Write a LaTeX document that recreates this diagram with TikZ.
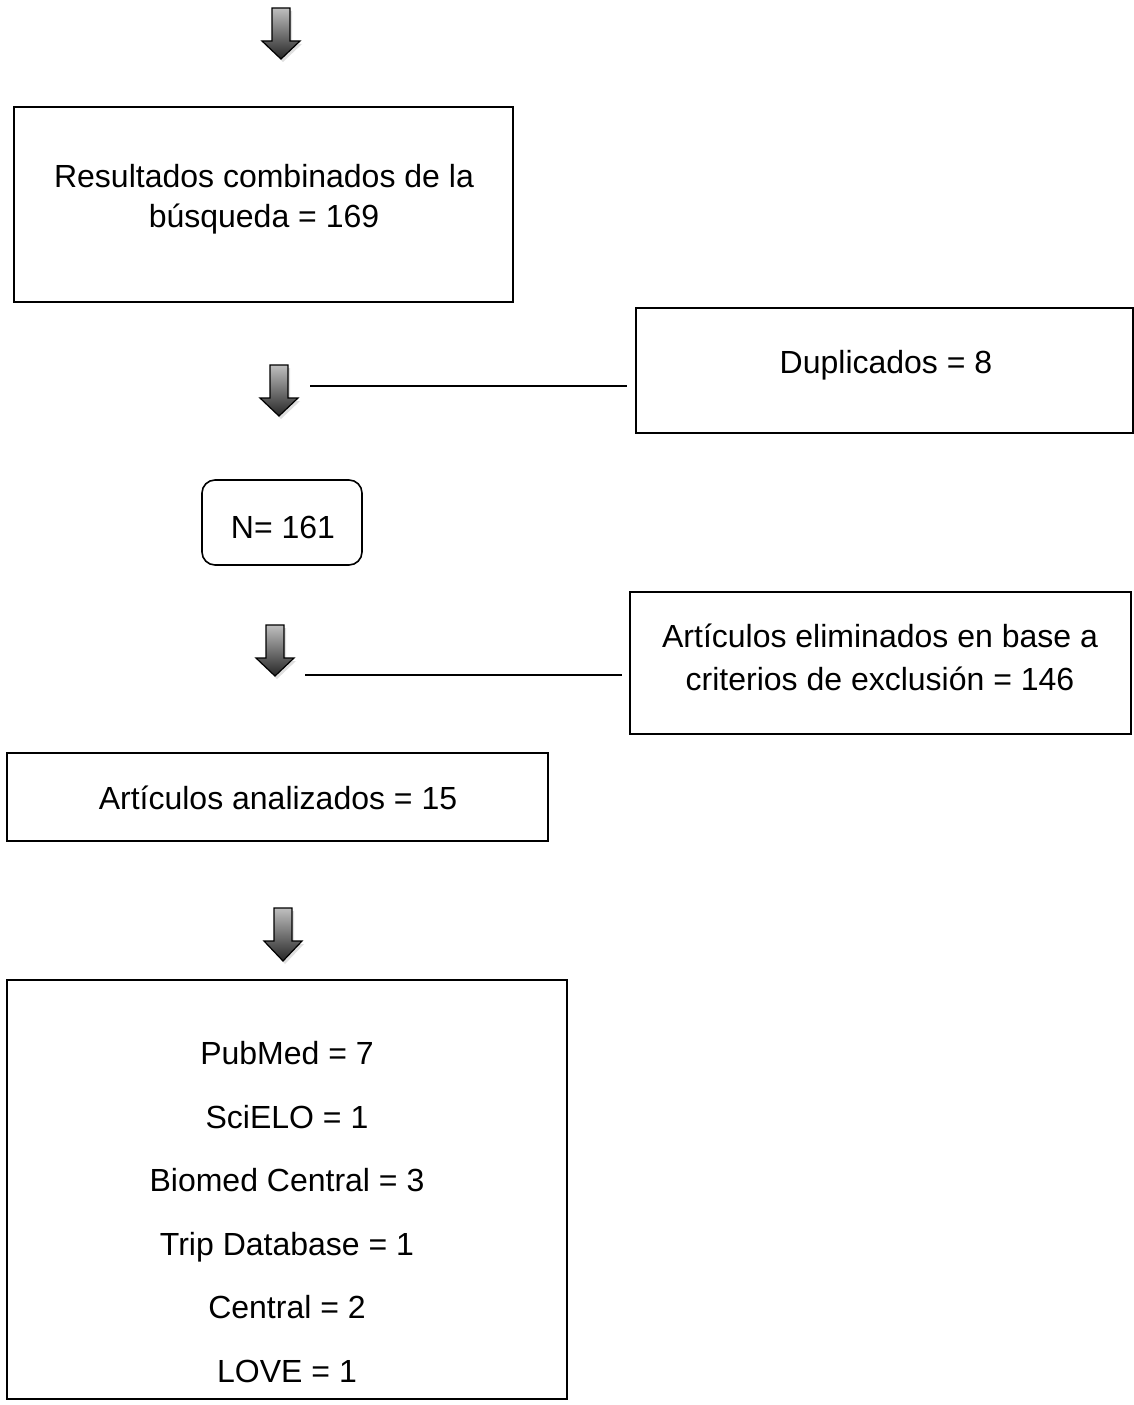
\documentclass[tikz,border=0pt]{standalone}
\usepackage{fontspec}
\setmainfont{Liberation Sans}
\usetikzlibrary{shadows}
\begin{document}
\begin{tikzpicture}[x=1pt,y=-1pt,
  box/.style={draw=black,line width=1.6pt,minimum width=#1,inner sep=0pt},
  txt/.style={font=\fontsize{32}{40}\selectfont,align=center,inner sep=0pt},
  link/.style={line width=1.3pt,draw=black},
  blockarrow/.style={draw=black,line width=1.2pt,line join=miter,top color=black!25,bottom color=black!85,
     drop shadow={opacity=0.25,shadow xshift=2pt,shadow yshift=-3pt}}]
\useasboundingbox (0,0) rectangle (1133,1405);
\newcommand\dnarrow[4]{% name, cx, top, tip
  \path[blockarrow] (#2-9,#3) -- (#2+9,#3) -- (#2+9,#3+33) -- (#2+19,#3+33) -- (#2,#4) -- (#2-19,#3+33) -- (#2-9,#3+33) -- cycle;
  \coordinate (#1) at (#2,#3);}

% arrows
\dnarrow{arrA}{281}{8}{59}
\dnarrow{arrB}{279}{365}{416}
\dnarrow{arrC}{275}{625}{676}
\dnarrow{arrD}{283}{908}{961}

% box 1
\node[box=499pt,minimum height=195pt] (res) at (263.5,204.5) {};
\node[txt] (restxt) at (264,199) {Resultados combinados de la\\búsqueda = 169};

% duplicados
\node[box=497pt,minimum height=125pt] (dup) at (884.5,370.5) {};
\node[txt] (duptxt) at (886,365) {Duplicados = 8};
\coordinate (l2a) at (310,386);
\coordinate (l2b) at (627,386);
\draw[link] (l2a) -- (l2b);

% N=161
\node[box=160pt,minimum height=85pt,rounded corners=13pt] (n) at (282,522.5) {};
\node[txt] (ntxt) at (283,527) {N= 161};

% eliminados
\node[box=501pt,minimum height=142pt] (elim) at (880.5,663) {};
\node[txt,font=\fontsize{32}{43}\selectfont] (elimtxt) at (880,657) {Artículos eliminados en base a\\criterios de exclusión = 146};
\coordinate (l3a) at (305,675);
\coordinate (l3b) at (622,675);
\draw[link] (l3a) -- (l3b);

% analizados
\node[box=541pt,minimum height=88pt] (anal) at (277.5,797) {};
\node[txt] (analtxt) at (278,798) {Artículos analizados = 15};

% final
\node[box=560pt,minimum height=419pt] (fin) at (287,1189.5) {};
\node[txt,font=\fontsize{32}{63.6}\selectfont] (fintxt) at (287,1212) {PubMed = 7\\SciELO = 1\\Biomed Central = 3\\Trip Database = 1\\Central = 2\\LOVE = 1};
\end{tikzpicture}
\end{document}
